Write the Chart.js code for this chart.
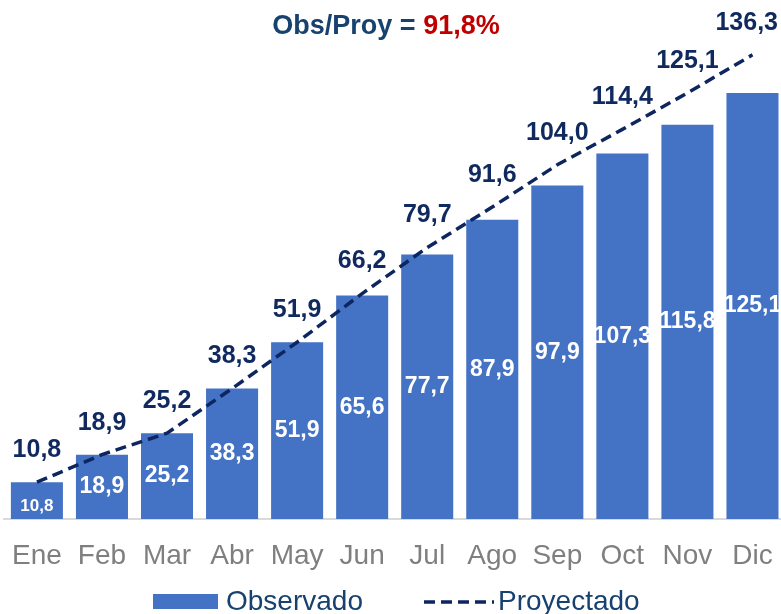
<!DOCTYPE html>
<html>
<head>
<meta charset="utf-8">
<script src="https://cdn.jsdelivr.net/npm/chart.js@4"></script>
<style>
  html, body { margin: 0; padding: 0; background: #fff; overflow: hidden; }
  #wrap { width: 785px; height: 614px; }
</style>
</head>
<body>
<div id="wrap"><canvas id="obs-chart"></canvas></div>
<script>
var months = ['Ene', 'Feb', 'Mar', 'Abr', 'May', 'Jun', 'Jul', 'Ago', 'Sep', 'Oct', 'Nov', 'Dic'];
var observado = [10.8, 18.9, 25.2, 38.3, 51.9, 65.6, 77.7, 87.9, 97.9, 107.3, 115.8, 125.1];
var proyectado = [10.8, 18.9, 25.2, 38.3, 51.9, 66.2, 79.7, 91.6, 104.0, 114.4, 125.1, 136.3];
var titleLeft = 'Obs/Proy = ';
var titleRight = '91,8%';

var barColor = '#4472C4';
var lineColor = '#0D2660';
var navyText = '#10295F';
var titleBlue = '#17416E';
var pageWidth = 781;

function fmt(v) {
    return v.toFixed(1).replace('.', ',');
}

// labels, title and legend drawn on top of the chart
var decorPlugin = {
    id: 'decor',
    afterDatasetsDraw: function(chart) {
        var ctx = chart.ctx;
        ctx.save();
        ctx.textAlign = 'center';
        ctx.textBaseline = 'middle';

        // values inside bars
        var barMeta = chart.getDatasetMeta(0);
        barMeta.data.forEach(function(bar, i) {
            var mid = (bar.y + bar.base) / 2;
            ctx.font = (i === 0 ? 'bold 17px' : 'bold 23px') + ' "Liberation Sans", Arial, sans-serif';
            ctx.fillStyle = '#ffffff';
            ctx.fillText(fmt(observado[i]), bar.x, i === 0 ? mid + 6 : mid);
        });

        // values above line points
        var lineMeta = chart.getDatasetMeta(1);
        ctx.font = 'bold 25px "Liberation Sans", Arial, sans-serif';
        ctx.fillStyle = navyText;
        lineMeta.data.forEach(function(pt, i) {
            var txt = fmt(proyectado[i]);
            var w = ctx.measureText(txt).width;
            var x = Math.min(pt.x, pageWidth - w / 2 - 3);
            ctx.fillText(txt, x, pt.y - 32);
        });

        // title
        ctx.font = 'bold 27px "Liberation Sans", Arial, sans-serif';
        var w1 = ctx.measureText(titleLeft).width;
        var w2 = ctx.measureText(titleRight).width;
        var tx = 386 - (w1 + w2) / 2;
        ctx.textAlign = 'left';
        ctx.fillStyle = titleBlue;
        ctx.fillText(titleLeft, tx, 27);
        ctx.fillStyle = '#C00000';
        ctx.fillText(titleRight, tx + w1, 27);

        // legend
        var ly = 601;
        ctx.fillStyle = barColor;
        ctx.fillRect(153, ly - 7, 65, 15);
        ctx.font = '28px "Liberation Sans", Arial, sans-serif';
        ctx.fillStyle = titleBlue;
        ctx.fillText('Observado', 226, ly + 1);

        ctx.strokeStyle = lineColor;
        ctx.lineWidth = 3.5;
        ctx.setLineDash([11, 6]);
        ctx.beginPath();
        ctx.moveTo(424, ly + 1);
        ctx.lineTo(494, ly + 1);
        ctx.stroke();
        ctx.setLineDash([]);
        ctx.fillText('Proyectado', 498, ly + 1);
        ctx.restore();
    }
};

var config = {
    type: 'bar',
    data: {
        labels: months,
        datasets: [{
            label: 'Observado',
            data: observado,
            backgroundColor: barColor,
            barPercentage: 0.8,
            categoryPercentage: 1.0,
            order: 2
        }, {
            type: 'line',
            label: 'Proyectado',
            data: proyectado,
            borderColor: lineColor,
            borderWidth: 3.5,
            borderDash: [11, 6],
            pointRadius: 0,
            tension: 0,
            fill: false,
            order: 1
        }]
    },
    options: {
        responsive: true,
        maintainAspectRatio: false,
        animation: false,
        layout: { padding: 0 },
        plugins: {
            legend: { display: false },
            title: { display: false },
            tooltip: { enabled: false }
        },
        scales: {
            x: {
                grid: { display: false },
                border: { display: true, color: '#D9D9D9', width: 2 },
                ticks: {
                    color: '#7F7F7F',
                    padding: 12,
                    font: { family: '"Liberation Sans", Arial, sans-serif', size: 28 }
                },
                afterFit: function(scale) { scale.height = 95; }
            },
            y: {
                display: false,
                min: 0,
                max: 152.4
            }
        }
    },
    plugins: [decorPlugin]
};

window.onload = function() {
    var obs_ctx = document.getElementById('obs-chart').getContext('2d');
    window.obsChart = new Chart(obs_ctx, config);
};
</script>
</body>
</html>
